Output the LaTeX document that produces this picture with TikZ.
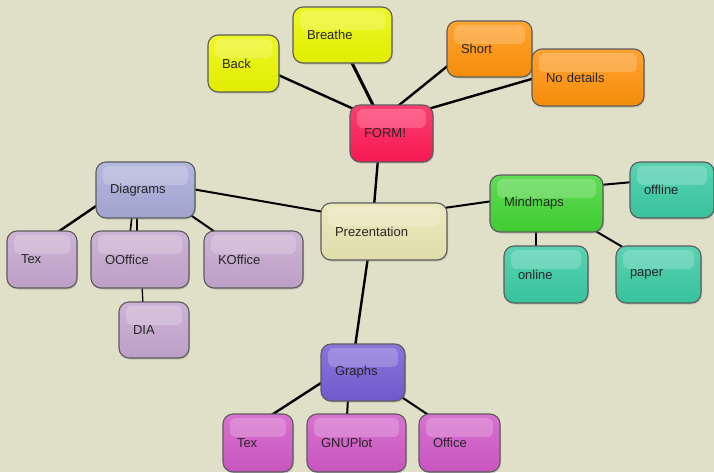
\documentclass[tikz,border=0pt]{standalone}
\usepackage{fontspec}
\setmainfont{Liberation Sans}
\usetikzlibrary{shadows}
\pgfdeclarelayer{back}
\pgfsetlayers{back,main}

\definecolor{paperbg}{RGB}{224,223,200}
\definecolor{cyel}{RGB}{234,246,0}
\definecolor{cform}{RGB}{254,26,86}
\definecolor{corange}{RGB}{255,146,10}
\definecolor{cdiag}{RGB}{166,170,214}
\definecolor{cmauve}{RGB}{196,166,206}
\definecolor{cprez}{RGB}{232,230,178}
\definecolor{cmind}{RGB}{66,212,52}
\definecolor{cteal}{RGB}{58,202,162}
\definecolor{cgraph}{RGB}{116,92,212}
\definecolor{cmag}{RGB}{208,88,198}

\begin{document}
\begin{tikzpicture}[x=1pt,y=-1pt,
  box/.style={draw=black!64, line width=1.1pt, rounded corners=10pt,
    inner xsep=14pt, inner ysep=0pt, align=left, text=black!85,
    font=\fontsize{13}{15}\selectfont,
    drop shadow={shadow xshift=1pt,shadow yshift=-1.5pt,opacity=0.3},
    path picture={\fill[white,opacity=0.2,rounded corners=6pt]
      ([xshift=7pt,yshift=-4pt]path picture bounding box.north west) rectangle
      ([xshift=-7pt,yshift=-23pt]path picture bounding box.north east);}},
  tint/.style={top color=#1!84!white, middle color=#1, bottom color=#1!96!black},
  sz/.style 2 args={minimum width=#1pt, minimum height=#2pt,
    /utils/exec={\pgfmathsetlengthmacro\boxtw{#1pt-28pt}}, text width=\boxtw},
  link/.style={line width=2.4pt, line cap=round},
  thinlink/.style={line width=1.3pt, line cap=round}
]
\begin{pgfonlayer}{back}
  \fill[paperbg] (0,0) rectangle (714,472);
\end{pgfonlayer}
\useasboundingbox (0,0) rectangle (714,472);

% central topic and first level
\node[box,sz={126}{57},tint=cprez]  (prez)   at (384,231.5) {Prezentation};
\node[box,sz={83}{57},tint=cform]   (form)   at (391.5,133.5) {FORM!};
\node[box,sz={99}{56},tint=cdiag]   (diag)   at (145.5,190) {Diagrams};
\node[box,sz={113}{57},tint=cmind]  (mind)   at (546.5,203.5) {Mindmaps};
\node[box,sz={84}{57},tint=cgraph]  (graphs) at (363,372.5) {Graphs};

% FORM! branch
\node[box,sz={71}{57},tint=cyel]    (back)    at (243.5,63.5) {Back};
\node[box,sz={99}{56},tint=cyel]    (breathe) at (342.5,35) {Breathe};
\node[box,sz={85}{56},tint=corange] (short)   at (489.5,49) {Short};
\node[box,sz={112}{57},tint=corange](nodet)   at (588,77.5) {No details};

% Diagrams branch
\node[box,sz={70}{57},tint=cmauve]  (tex1) at (42,259.5) {Tex};
\node[box,sz={98}{57},tint=cmauve]  (ooff) at (140,259.5) {OOffice};
\node[box,sz={99}{57},tint=cmauve]  (koff) at (253.5,259.5) {KOffice};
\node[box,sz={70}{56},tint=cmauve]  (dia)  at (154,330) {DIA};

% Mindmaps branch
\node[box,sz={84}{56},tint=cteal]   (offl)  at (672,190) {offline};
\node[box,sz={84}{57},tint=cteal]   (onl)   at (546,274.5) {online};
\node[box,sz={85}{57},tint=cteal]   (paper) at (658.5,274.5) {paper};

% Graphs branch
\node[box,sz={70}{58},tint=cmag]    (tex2)   at (258,443) {Tex};
\node[box,sz={99}{58},tint=cmag]    (gnu)    at (356.5,443) {GNUPlot};
\node[box,sz={81}{58},tint=cmag]    (office) at (459.5,443) {Office};

\begin{pgfonlayer}{back}
  \draw[link] ([shift={(32.5,10.5)}]back.center) -- ([shift={(-35.5,-23.5)}]form.center);
  \draw[link,line width=3pt] ([shift={(8.5,26)}]breathe.center) -- ([shift={(-17.5,-26.5)}]form.center);
  \draw[link] ([shift={(-39.5,15)}]short.center) -- ([shift={(6.5,-27.5)}]form.center);
  \draw[link] ([shift={(-53,0.5)}]nodet.center) -- ([shift={(36.5,-24.5)}]form.center);
  \draw[link] ([shift={(-13.5,25.5)}]form.center) -- ([shift={(-10,-25.5)}]prez.center);
  \draw[link,line width=2pt] ([shift={(-60,-19.5)}]prez.center) -- ([shift={(46.5,-1)}]diag.center);
  \draw[link,line width=2pt] ([shift={(60,-23.5)}]prez.center) -- ([shift={(-53.5,-2.5)}]mind.center);
  \draw[link] ([shift={(-16,25.5)}]prez.center) -- ([shift={(-8,-25.5)}]graphs.center);
  \draw[link] ([shift={(-46.5,14)}]diag.center) -- ([shift={(13,-25.5)}]tex1.center);
  \draw[link] ([shift={(-8.5,25)}]diag.center) -- ([shift={(-3,-25.5)}]ooff.center);
  \draw[link,line width=1.6pt] ([shift={(-13.5,25)}]diag.center) -- ([shift={(-10,-25.5)}]ooff.center);
  \draw[link,line width=2pt] ([shift={(43.5,24)}]diag.center) -- ([shift={(-35.5,-25.5)}]koff.center);
  \draw[thinlink] ([shift={(2,25.5)}]ooff.center) -- ([shift={(-11,-25)}]dia.center);
  \draw[link,line width=2pt] ([shift={(53.5,-18.5)}]mind.center) -- ([shift={(-39,-8)}]offl.center);
  \draw[link,line width=2pt] ([shift={(-10.5,25.5)}]mind.center) -- ([shift={(-10,-25.5)}]onl.center);
  \draw[link,line width=2pt] ([shift={(45.5,25.5)}]mind.center) -- ([shift={(-32.5,-25.5)}]paper.center);
  \draw[link] ([shift={(-39,8.5)}]graphs.center) -- ([shift={(12,-27)}]tex2.center);
  \draw[link,line width=2pt] ([shift={(-15,25.5)}]graphs.center) -- ([shift={(-9.5,-26)}]gnu.center);
  \draw[link,line width=2pt] ([shift={(37,23.5)}]graphs.center) -- ([shift={(-29.5,-27)}]office.center);
\end{pgfonlayer}
\end{tikzpicture}
\end{document}
